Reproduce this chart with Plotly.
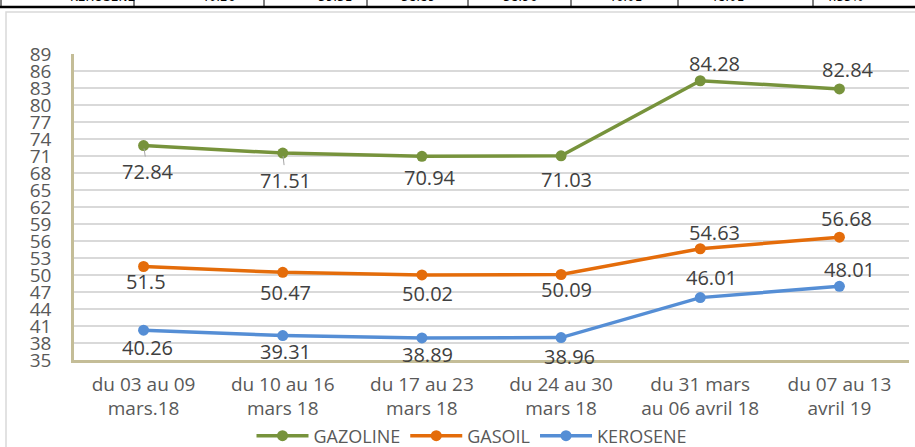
import plotly.graph_objects as go

# ---- data ----
categories = ["du 03 au 09<br>mars.18", "du 10 au 16<br>mars 18", "du 17 au 23<br>mars 18",
              "du 24 au 30<br>mars 18", "du 31 mars<br>au 06 avril 18", "du 07 au 13<br>avril 19"]
gazoline = [72.84, 71.51, 70.94, 71.03, 84.28, 82.84]
gasoil = [51.5, 50.47, 50.02, 50.09, 54.63, 56.68]
kerosene = [40.26, 39.31, 38.89, 38.96, 46.01, 48.01]
series_names = ["GAZOLINE", "GASOIL", "KEROSENE"]
y_ticks = list(range(35, 90, 3))
table_row = ["KEROSENE", "40.26", "39.31", "38.89", "38.96", "46.01", "48.01", "4.35%"]

# ---- style ----
colors = ["#77933C", "#E46C0A", "#558ED5"]
FONT = "Open Sans"
TXT = "#595959"
LBL = "#404040"
# label pixel offsets (dx, dy) per point, positive dy = downward
label_offsets = [
    [(4, 26), (3, 27), (8, 21), (5, 24), (14, -17), (9, -19)],
    [(2, 15), (3, 20), (6, 19), (5, 15), (14, -16), (7, -19)],
    [(4, 17), (3, 16), (6, 17), (8, 19), (11, -20), (10, -17)],
]
leader = [[True, True, False, False, False, False], [False]*6, [False]*6]

L, R, T, B = 74, 6, 54, 87
W, H = 915, 447
pw, ph = W - L - R, H - T - B

def px_x(p):
    return (p - L) / pw

def px_y(p):
    return (H - B - p) / ph

fig = go.Figure()
all_series = [gazoline, gasoil, kerosene]
for name, vals, col in zip(series_names, all_series, colors):
    fig.add_trace(go.Scatter(
        x=categories, y=vals, name=name, mode="lines+markers",
        line=dict(color=col, width=3.5),
        marker=dict(color=col, size=11),
        hoverinfo="skip",
    ))

annotations = []
for si, vals in enumerate(all_series):
    for i, v in enumerate(vals):
        dx, dy = label_offsets[si][i]
        if leader[si][i]:
            annotations.append(dict(
                x=categories[i], y=v, xref="x", yref="y", text=f"{v:g}",
                showarrow=True, arrowhead=0, arrowwidth=1, arrowcolor="#A6A6A6",
                ax=dx, ay=dy, standoff=3,
                font=dict(family=FONT, size=20, color=LBL)))
        else:
            annotations.append(dict(
                x=categories[i], y=v, xref="x", yref="y", text=f"{v:g}",
                showarrow=False, xshift=dx, yshift=-dy,
                font=dict(family=FONT, size=20, color=LBL)))

# table fragment at the top (mostly cut off)
col_edges = [1, 134, 264, 367, 468, 571, 678, 813, 916]
shapes = []
shapes.append(dict(type="line", xref="paper", yref="paper",
                   x0=px_x(0), x1=px_x(915), y0=px_y(7), y1=px_y(7),
                   line=dict(color="#000000", width=2.5)))
for e in col_edges[:-1]:
    shapes.append(dict(type="line", xref="paper", yref="paper",
                       x0=px_x(e), x1=px_x(e), y0=px_y(-2), y1=px_y(7),
                       line=dict(color="#000000", width=1)))
for k, t in enumerate(table_row):
    cx = (col_edges[k] + col_edges[k + 1]) / 2
    annotations.append(dict(
        x=px_x(cx), y=px_y(-3), xref="paper", yref="paper", text=t,
        showarrow=False, yanchor="middle",
        font=dict(family="DejaVu Sans", size=12, color="#000000")))

# chart frame
shapes.append(dict(type="rect", xref="paper", yref="paper",
                   x0=px_x(6), x1=px_x(930), y0=px_y(470), y1=px_y(12),
                   line=dict(color="#D9D9D9", width=1.5), layer="below"))

fig.update_layout(
    width=W, height=H,
    margin=dict(l=L, r=R, t=T, b=B, autoexpand=False),
    paper_bgcolor="white", plot_bgcolor="white",
    font=dict(family=FONT, size=20, color=TXT),
    showlegend=True,
    legend=dict(orientation="h", x=px_x(472), xanchor="center", y=px_y(436), yanchor="middle",
                font=dict(family=FONT, size=18, color=TXT), itemwidth=52,
                bgcolor="rgba(0,0,0,0)"),
    annotations=annotations,
    shapes=shapes,
    xaxis=dict(type="category", range=[-0.5, 5.5], showgrid=False, zeroline=False,
               showline=True, linecolor="#C4BD97", linewidth=2.5, ticks="",
               tickfont=dict(family=FONT, size=19, color=TXT), ticklabelstandoff=5),
    yaxis=dict(range=[35, 89], tickvals=y_ticks, showgrid=True, gridcolor="#D9D9D9",
               gridwidth=1.5, zeroline=False, showline=True, linecolor="#C4BD97",
               linewidth=2.5, ticks="", tickfont=dict(family=FONT, size=19, color=TXT),
               ticklabelstandoff=16),
)

fig.write_html("out.html", config={"displayModeBar": False},
               post_script="document.body.style.margin='0';document.body.style.overflow='hidden';")
